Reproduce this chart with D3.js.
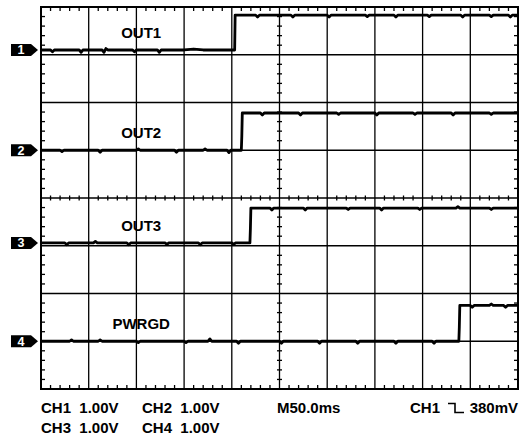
<!DOCTYPE html>
<html lang="en">
<head>
<meta charset="utf-8">
<title>Power-up sequence</title>
<script src="https://d3js.org/d3.v7.min.js"></script>
<style>
  body { margin: 0; background: #fff; }
  text { font-family: "Liberation Sans", Arial, sans-serif; font-weight: bold; fill: #000; white-space: pre; }
</style>
</head>
<body>
<script>
// channel settings
var channels = ["1", "2", "3", "4"];
var labels = ["OUT1", "OUT2", "OUT3", "PWRGD"];
var groundDiv = [3.1, 1.0, -0.94, -3.0];   // ground marker position, divisions from centre

// traces: [time ms, volts above ground]
var ch1 = [[0,0],[10,0],[12,-0.04],[14,0],[40,0],[42,-0.05],[44,0],[64,0],[66,-0.05],[68,0.03],[70,0],
  [96,0],[98,-0.04],[100,0],[122,0],[124,-0.05],[126,0],[150,0],[160,0.02],[170,0],[203,0],
  [203.5,0.73],[225,0.73],[227,0.69],[229,0.73],[262,0.73],[264,0.69],[266,0.73],[300,0.73],
  [302,0.69],[304,0.73],[340,0.73],[342,0.70],[344,0.73],[370,0.73],[372,0.69],[374,0.73],
  [405,0.73],[407,0.70],[409,0.73],[440,0.73],[442,0.69],[444,0.73],[470,0.73],[472,0.70],
  [474,0.73],[490,0.73],[492,0.69],[494,0.73],[500,0.73]];
var ch2 = [[0,0],[20,0],[22,-0.03],[24,0],[60,0],[62,-0.04],[64,0],[100,0],[102,0.03],[104,0],
  [140,0],[142,-0.04],[144,0],[170,0],[172,0.03],[174,0],[195,0],[197,-0.05],[199,0],[210,0],
  [210.5,0.3],[211,0.78],[230,0.78],[232,0.74],[234,0.78],[270,0.78],[272,0.74],[274,0.78],
  [310,0.78],[312,0.75],[314,0.78],[350,0.78],[352,0.74],[354,0.78],[390,0.78],[392,0.75],
  [394,0.78],[430,0.78],[432,0.74],[434,0.78],[470,0.78],[472,0.75],[474,0.78],[500,0.78]];
var ch3 = [[0,0],[25,0],[27,-0.04],[29,0],[55,0],[57,0.03],[59,0],[90,0],[92,-0.04],[94,0],
  [130,0],[132,-0.03],[134,0],[165,0],[167,-0.04],[169,0],[200,0],[202,-0.03],[204,0],[219,0],
  [219.5,0.3],[220,0.73],[240,0.73],[242,0.69],[244,0.73],[275,0.73],[277,0.69],[279,0.73],
  [320,0.73],[322,0.70],[324,0.73],[355,0.73],[357,0.69],[359,0.73],[395,0.73],[397,0.70],
  [399,0.73],[435,0.73],[437,0.76],[439,0.73],[470,0.73],[472,0.70],[474,0.73],[500,0.73]];
var ch4 = [[0,0],[30,0],[32,0.03],[34,0],[60,0],[62,0.03],[64,0],[100,0],[102,-0.03],[104,0],
  [150,0],[152,-0.03],[154,0],[175,0],[177,0.05],[179,0],[205,0],[207,-0.04],[209,0],
  [250,0],[252,-0.04],[254,0],[290,0],[292,-0.04],[294,0],[330,0],[332,-0.04],[334,0],
  [370,0],[372,-0.04],[374,0],[410,0],[412,-0.04],[414,0],[438,0],[438.5,0.3],[439,0.75],
  [450,0.75],[452,0.71],[454,0.75],[470,0.75],[472,0.78],[474,0.75],[485,0.75],[487,0.71],
  [489,0.75],[500,0.75]];
var traces = [ch1, ch2, ch3, ch4];

var statusRow1 = ["CH1  1.00V", "CH2  1.00V", "M50.0ms"];
var statusRow2 = ["CH3  1.00V", "CH4  1.00V"];
var triggerSource = "CH1";
var triggerLevel = "380mV";

var width = 522, height = 439;
var svg = d3.select("body").append("svg")
    .attr("width", width)
    .attr("height", height);

// 10 x 8 divisions, 50 ms/div, 1 V/div
var x = d3.scaleLinear().domain([0, 500]).range([41, 518]);
var y = d3.scaleLinear().domain([-4, 4]).range([389, 7]);

var grid = svg.append("g");

// major grid lines
d3.range(1, 10).forEach(function(i) {
  grid.append("line")
    .attr("x1", x(i * 50)).attr("x2", x(i * 50))
    .attr("y1", y(4)).attr("y2", y(-4))
    .attr("stroke", "#000").attr("stroke-width", 1.3);
});
d3.range(-3, 4).forEach(function(i) {
  grid.append("line")
    .attr("x1", x(0)).attr("x2", x(500))
    .attr("y1", y(i)).attr("y2", y(i))
    .attr("stroke", "#000").attr("stroke-width", 1.3);
});

// minor ticks on the border and centre lines
var tickT = d3.range(0, 500.01, 10).filter(function(t) { return t % 50 != 0; });
var tickV = d3.range(-4, 4.01, 0.2).filter(function(v) { return Math.abs(v - Math.round(v)) > 0.01; });

tickT.forEach(function(t) {
  grid.append("line").attr("x1", x(t)).attr("x2", x(t))
    .attr("y1", y(4)).attr("y2", y(4) + 4).attr("stroke", "#000").attr("stroke-width", 1.3);
  grid.append("line").attr("x1", x(t)).attr("x2", x(t))
    .attr("y1", y(-4)).attr("y2", y(-4) - 4).attr("stroke", "#000").attr("stroke-width", 1.3);
  grid.append("line").attr("x1", x(t)).attr("x2", x(t))
    .attr("y1", y(0) - 2.5).attr("y2", y(0) + 2.5).attr("stroke", "#000").attr("stroke-width", 1.3);
});
tickV.forEach(function(v) {
  grid.append("line").attr("x1", x(0)).attr("x2", x(0) + 4)
    .attr("y1", y(v)).attr("y2", y(v)).attr("stroke", "#000").attr("stroke-width", 1.3);
  grid.append("line").attr("x1", x(500)).attr("x2", x(500) - 4)
    .attr("y1", y(v)).attr("y2", y(v)).attr("stroke", "#000").attr("stroke-width", 1.3);
  grid.append("line").attr("x1", x(250) - 2.5).attr("x2", x(250) + 2.5)
    .attr("y1", y(v)).attr("y2", y(v)).attr("stroke", "#000").attr("stroke-width", 1.3);
});

// outer frame
grid.append("rect")
  .attr("x", x(0)).attr("y", y(4))
  .attr("width", x(500) - x(0)).attr("height", y(-4) - y(4))
  .attr("fill", "none").attr("stroke", "#000").attr("stroke-width", 2);

// traces
traces.forEach(function(tr, i) {
  var line = d3.line()
    .x(function(d) { return x(d[0]); })
    .y(function(d) { return y(groundDiv[i] + d[1]); });
  svg.append("path")
    .datum(tr)
    .attr("d", line)
    .attr("fill", "none")
    .attr("stroke", "#000")
    .attr("stroke-width", 2.8)
    .attr("stroke-linejoin", "round");

  svg.append("text")
    .attr("x", x(105))
    .attr("y", y(groundDiv[i]) - 12)
    .attr("text-anchor", "middle")
    .style("font-size", "15px")
    .text(labels[i]);

  // ground marker
  var gy = y(groundDiv[i]);
  svg.append("path")
    .attr("d", "M11," + (gy - 6) + "H31L38," + gy + "L31," + (gy + 6) + "H11Z")
    .attr("fill", "#000");
  svg.append("text")
    .attr("x", 21).attr("y", gy + 4.5)
    .attr("text-anchor", "middle")
    .style("font-size", "12.5px")
    .style("fill", "#fff")
    .text(channels[i]);
});

// status line
var readout = svg.append("g").style("font-size", "15px");
readout.append("text").attr("x", 41).attr("y", 413).text(statusRow1[0]);
readout.append("text").attr("x", 142).attr("y", 413).text(statusRow1[1]);
readout.append("text").attr("x", 277).attr("y", 413).text(statusRow1[2]);
readout.append("text").attr("x", 41).attr("y", 433).text(statusRow2[0]);
readout.append("text").attr("x", 142).attr("y", 433).text(statusRow2[1]);

readout.append("text").attr("x", 518).attr("y", 413).attr("text-anchor", "end").text(triggerLevel);
readout.append("text").attr("x", 410).attr("y", 413).text(triggerSource);
// falling-edge trigger symbol
svg.append("path")
  .attr("d", "M448,403.5H455V412.5H464")
  .attr("fill", "none").attr("stroke", "#000").attr("stroke-width", 1.6);
</script>
</body>
</html>
